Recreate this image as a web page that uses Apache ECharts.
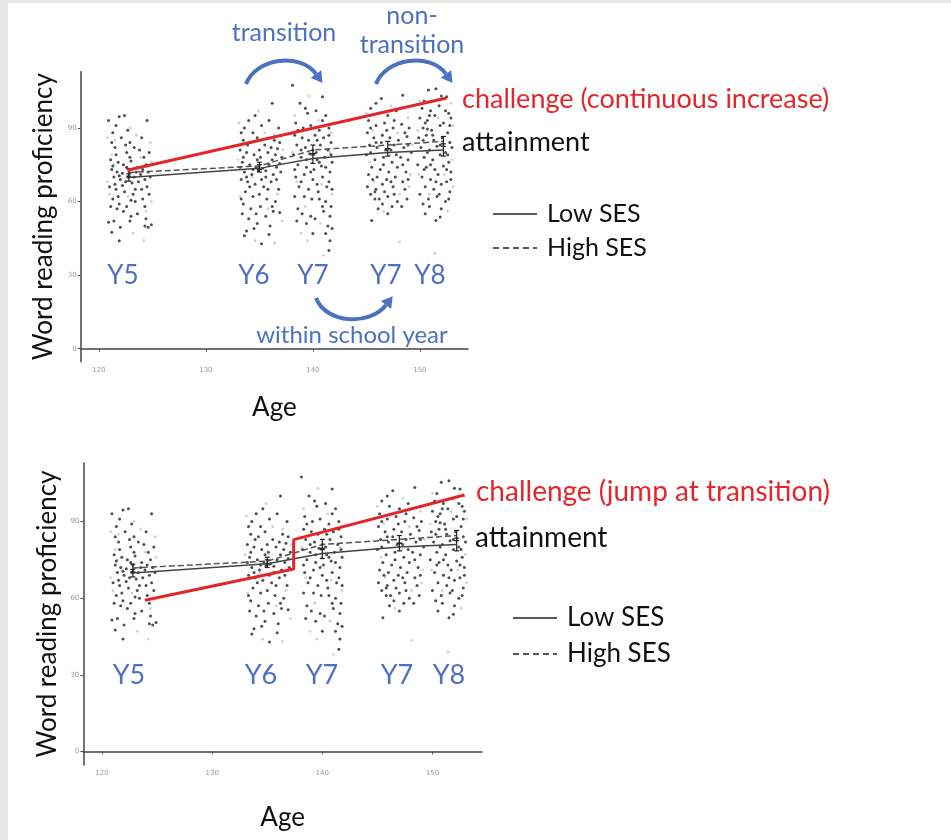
<!DOCTYPE html>
<html><head><meta charset="utf-8">
<script src="https://cdn.jsdelivr.net/npm/echarts@6/dist/echarts.min.js"></script>
<style>html,body{margin:0;padding:0;background:#fff}#c{width:951px;height:840px}</style>
</head><body><div id="c"></div>
<script>
// ---------- data ----------
const ageTicks = [120, 130, 140, 150];
const profTicks = [0, 30, 60, 90];
const yearLabels = ['Y5', 'Y6', 'Y7', 'Y7', 'Y8'];

// individual children (age, word reading proficiency), dark = higher opacity points
const darkPoints = [
 [120.9,93],[121.6,91],[121.9,94.5],[122.4,95],[122.7,89],[124.5,93],[121.3,88],[122.1,86],[122.9,84],[123.3,82],[121.5,82],[122.6,80],[123.8,81],[124.2,78],[121.1,77],[121.8,76],[122.3,75],[123.0,76.5],[123.6,74],[124.4,75],[121.2,73],[121.7,72],[122.2,71.5],[122.8,73],[123.3,70],[123.9,71],[124.6,72],[121.4,70],[122.0,69],[122.5,68],[123.1,67.5],[123.7,68],[124.3,69],[121.0,66],[121.6,65],[122.4,64],[123.2,63],[124.0,65],[124.7,63],[121.3,61],[121.9,59],[122.6,58],[123.4,60],[124.1,61],[121.1,58],[121.7,57],[122.3,56],[123.6,55],[124.4,53],[120.9,51.5],[121.4,52],[122.0,49.5],[123.0,54],[124.3,50],[124.6,49.5],[124.9,50.5],[121.9,44],
 [121.2,84],[122.5,83],[124.0,86],[121.6,79],[122.9,78],[124.7,80],[121.3,74.5],[122.6,74],[124.1,73],[121.9,70.5],[122.7,70],[123.5,72],[124.8,70],[121.5,67],[122.2,66.5],[123.4,65],[124.5,66],[121.8,62],[123.0,60.5],[124.3,58],[122.9,52],[121.2,47.5],
 [133.3,88],[134.0,93],[134.6,95],[135.2,91],[136.2,100],[136.8,90],[133.5,85],[134.2,84],[134.8,86],[135.5,83],[136.1,82],[136.9,84],[133.2,81],[133.8,80],[134.5,79],[135.1,78],[135.8,80],[136.5,79],[137.1,78],[133.4,76],[134.1,75],[134.7,74],[135.3,73.5],[135.9,75],[136.6,74],[133.6,72],[134.3,71],[134.9,72.5],[135.6,70],[136.3,71],[137.0,72],[133.3,69],[133.9,68],[134.6,67],[135.4,66],[136.1,68],[136.8,65],[133.7,64],[134.4,62],[135.0,63],[135.7,61],[136.5,60],[133.5,59],[134.2,57],[135.1,58],[136.3,56],[136.9,55.5],[133.4,55],[134.0,53],[134.8,51],[135.6,54],[133.8,48],[134.5,49],[133.6,46],[135.2,42.8],[136.0,50],
 [133.6,90],[135.9,93],[134.4,88],[136.4,85],[133.9,83],[135.0,81],[136.7,81.5],[133.5,78],[134.8,77],[136.2,77],[133.2,74],[134.4,73],[135.6,72.5],[136.9,75.5],[133.8,70],[135.2,69],[136.6,69],[134.1,66],[135.8,65],[133.3,61],[136.2,58],[134.7,55],[135.9,46.5],
 [138.1,107.4],[138.8,100],[140.9,102.7],[139.5,96],[140.3,97],[141.2,95],[138.4,92],[139.1,90],[139.8,91],[140.6,89],[141.5,90],[138.3,87],[139.0,86],[139.6,85],[140.2,87],[141.0,86],[141.7,84],[138.5,83],[139.3,82],[140.0,81],[140.7,83],[141.4,81],[138.2,79],[138.9,78],[139.7,79.5],[140.4,77],[141.1,78],[141.8,76],[138.6,75],[139.4,74],[140.1,73],[140.8,74.5],[141.6,72],[138.4,70],[139.2,71],[140.0,69],[140.9,70],[141.5,68],[138.7,66],[139.6,65],[140.5,64],[141.3,66],[138.3,62],[139.9,61],[140.6,61],[141.2,60],[141.7,58],[139.0,55],[139.8,54],[141.0,56],[141.6,54],[138.5,52],[139.4,51],[140.2,53],[141.4,50],[141.8,49],[141.2,47],[141.5,40],
 [139.3,98],[140.9,93],[138.6,89],[140.4,85],[141.5,87],[138.9,81],[140.3,80],[141.7,79],[139.4,77],[140.6,76],[138.3,73],[139.8,72],[141.2,74],[138.9,68],[140.4,67],[141.8,65],[139.2,62],[140.9,58],[138.6,57],[140.0,47],[141.6,44],
 [146.4,102],[148.4,103.3],[145.4,98],[146.1,96],[147.0,95],[147.8,97],[145.2,93],[145.9,91],[146.7,92],[147.5,90],[148.3,91.5],[149.0,90],[145.1,88],[145.7,86],[146.5,87],[147.2,86],[148.0,85],[148.8,86.5],[145.3,83],[146.0,82],[146.8,81],[147.6,83],[148.5,82],[149.2,80],[145.0,79],[145.8,77],[146.6,78],[147.4,76],[148.2,78],[148.9,77],[145.5,74],[146.3,73],[147.1,72],[147.9,74],[148.7,72],[145.2,71],[146.0,70],[146.9,69],[147.7,70],[148.4,68],[145.1,66],[145.9,65],[146.7,64],[147.5,66],[148.6,65],[145.4,63],[146.2,61],[147.0,62],[147.9,60],[148.8,61],[146.5,59],[147.4,58],[145.5,52.3],[145.8,64],[146.4,84],
 [145.9,100],[147.6,93],[145.4,90],[146.9,89],[148.6,88],[145.9,84],[147.3,81],[148.9,83],[145.4,80],[146.6,75],[147.8,79],[148.4,75],[145.6,69],[146.5,67],[147.3,68],[148.9,69],[145.8,61],[147.6,63],[148.3,58],[146.1,57],[147.0,55],
 [150.8,105.4],[151.5,106],[152.5,102.7],[150.2,98],[151.0,97],[151.8,99],[152.7,96],[150.0,94],[150.7,93],[151.4,95],[152.2,92],[152.9,94],[150.3,90],[151.1,89],[151.9,91],[152.6,88],[149.9,86],[150.6,87],[151.3,85],[152.1,86],[152.8,84],[150.1,82],[150.9,81],[151.6,82.5],[152.4,80],[153.0,82],[150.4,78],[151.2,77],[151.9,79],[152.7,76],[149.8,75],[150.6,74],[151.4,73],[152.2,74.5],[152.9,72],[150.2,70],[151.0,69],[151.7,71],[152.5,68],[150.5,66],[151.3,65],[152.0,67],[152.8,64],[150.0,63],[150.8,61],[151.6,62],[152.4,60],[150.3,59],[152.0,57],[151.9,53.7],[151.5,52.3],[150.7,89.5],
 [150.4,101],[152.0,103],[150.9,95],[152.4,97],[150.5,92],[152.8,91],[151.2,87],[150.3,85],[151.9,83],[150.7,80],[152.6,79],[151.0,75],[152.5,73],[150.4,73],[151.5,68],[152.9,69],[151.8,63],[150.9,58],[152.7,61],[150.5,55]
];
const lightPoints = [
 [120.8,86],[121.5,85],[123.5,87],[124.8,84],[121.2,79],[123.9,78],[124.9,76],[120.8,68],[122.7,62],[124.9,60],[121.0,63],[124.4,56],[124.2,44],[123.2,47],[122.9,90],[121.4,75],
 [133.1,92],[134.9,97],[136.4,87],[133.0,77],[137.2,81],[134.3,70],[136.7,63],[133.2,62],[135.8,57],[137.1,52],[134.6,44],[136.4,43],[135.5,88],
 [138.3,95],[139.6,103],[140.5,93],[141.7,88],[138.1,80],[139.9,76],[141.6,80],[138.5,68],[140.8,67],[139.3,58],[140.7,51],[138.9,47],[141.0,38],[139.5,44],[141.8,63],
 [145.0,96],[147.3,99],[148.9,94],[145.6,89],[147.9,88],[149.3,83],[145.3,76],[147.2,79],[149.1,71],[145.7,68],[148.1,63],[146.6,56],[148.1,43.5],[149.0,66],
 [150.0,101],[152.9,100],[151.7,94],[149.8,89],[153.1,91],[150.5,84],[153.0,77],[149.9,71],[152.3,71],[150.9,63],[153.1,66],[151.4,38.8],[152.6,56]
];

// group means at each wave
const waveAges = [122.8, 135, 140, 147, 152.2];
const lowSES  = [69.8, 73.5, 77.5, 80, 81];
const highSES = [71.8, 74.5, 81, 83, 84.5];
const lowSESlo  = [68.3, 72, 75.5, 78.5, 78.5];
const lowSEShi  = [71.3, 75, 79.5, 81.5, 83.5];
const highSESlo = [70.3, 73, 79, 81.5, 82.5];
const highSEShi = [73.3, 76, 83, 84.5, 86.5];

// hypothesised challenge trajectories
const challengeContinuous = [[122.65, 72.7], [152.5, 102.2]];
const challengeJump = [[123.9, 59.2], [137.4, 71.4], [137.4, 82.9], [152.9, 100.4]];

// ---------- chart ----------
const zip = (xs, ys) => xs.map((x, i) => [x, ys[i]]);
const zip3 = (xs, a, b) => xs.map((x, i) => [x, a[i], b[i]]);
const FONT = 'Lato';
const BLUE = '#4a72c0', RED = '#e3262c';

function errItem(params, api) {
  const x = api.value(0), lo = api.value(1), hi = api.value(2);
  const p1 = api.coord([x, lo]), p2 = api.coord([x, hi]);
  const w = 2.5, st = { stroke: '#222', lineWidth: 1.2 };
  return { type: 'group', children: [
    { type: 'line', shape: { x1: p1[0], y1: p1[1], x2: p2[0], y2: p2[1] }, style: st },
    { type: 'line', shape: { x1: p1[0]-w, y1: p1[1], x2: p1[0]+w, y2: p1[1] }, style: st },
    { type: 'line', shape: { x1: p2[0]-w, y1: p2[1], x2: p2[0]+w, y2: p2[1] }, style: st }
  ]};
}

function xAx(i, gap) {
  return {
    type: 'value', gridIndex: i, min: 118.3, max: 154.5,
    name: 'Age', nameLocation: 'middle', nameGap: gap,
    nameTextStyle: { fontFamily: FONT, fontSize: 26, color: '#111' },
    splitLine: { show: false },
    axisLine: { lineStyle: { color: '#444', width: 1.5 } },
    axisTick: { customValues: ageTicks, length: 3, lineStyle: { color: '#555' } },
    axisLabel: { customValues: ageTicks, fontSize: 7, color: '#999', margin: 5, fontFamily: 'DejaVu Sans' }
  };
}
function yAx(i, gap) {
  return {
    type: 'value', gridIndex: i, min: -5.3, max: 112.9,
    name: 'Word reading proficiency', nameLocation: 'middle', nameGap: gap, nameRotate: 90,
    nameTextStyle: { fontFamily: FONT, fontSize: 26, color: '#111' },
    splitLine: { show: false },
    axisLine: { show: true, lineStyle: { color: '#444', width: 1.5 } },
    axisTick: { show: true, customValues: profTicks, length: 3, lineStyle: { color: '#555' } },
    axisLabel: { customValues: profTicks, fontSize: 7, color: '#999', margin: 4, fontFamily: 'DejaVu Sans' }
  };
}
function panelSeries(i, challenge) {
  return [
    { type: 'scatter', xAxisIndex: i, yAxisIndex: i, data: lightPoints, symbolSize: 2.8, itemStyle: { color: '#c4c4c4' }, silent: true, z: 1 },
    { type: 'scatter', xAxisIndex: i, yAxisIndex: i, data: darkPoints, symbolSize: 3, itemStyle: { color: '#222' }, silent: true, z: 2 },
    { type: 'line', name: 'Low SES', xAxisIndex: i, yAxisIndex: i, data: zip(waveAges, lowSES), symbol: 'none', lineStyle: { color: '#444', width: 1.5 }, z: 3 },
    { type: 'line', name: 'High SES', xAxisIndex: i, yAxisIndex: i, data: zip(waveAges, highSES), symbol: 'none', lineStyle: { color: '#555', width: 1.5, type: [6, 3] }, z: 3 },
    { type: 'custom', xAxisIndex: i, yAxisIndex: i, data: zip3(waveAges, lowSESlo, lowSEShi), renderItem: errItem, encode: { x: 0, y: [1, 2] }, z: 4 },
    { type: 'custom', xAxisIndex: i, yAxisIndex: i, data: zip3(waveAges, highSESlo, highSEShi), renderItem: errItem, encode: { x: 0, y: [1, 2] }, z: 4 },
    { type: 'line', xAxisIndex: i, yAxisIndex: i, data: challenge, symbol: 'none', lineStyle: { color: RED, width: 3 }, z: 5 }
  ];
}

function txt(x, y, s, size, color, align) {
  return { type: 'text', x: x, y: y, z: 100, style: { text: s, fontFamily: FONT, fontSize: size, fill: color, align: align || 'center', verticalAlign: 'middle' } };
}
function arrow(sx, sy, c1x, c1y, c2x, c2y, ex, ey) {
  let dx = ex - c2x, dy = ey - c2y; const L = Math.hypot(dx, dy); dx /= L; dy /= L;
  const px = -dy, py = dx;
  return [
    { type: 'bezierCurve', z: 100, shape: { x1: sx, y1: sy, x2: ex, y2: ey, cpx1: c1x, cpy1: c1y, cpx2: c2x, cpy2: c2y }, style: { stroke: BLUE, lineWidth: 4, fill: null } },
    { type: 'polygon', z: 100, shape: { points: [[ex + dx * 11, ey + dy * 11], [ex + px * 6.5, ey + py * 6.5], [ex - px * 6.5, ey - py * 6.5]] }, style: { fill: BLUE } }
  ];
}
function legendItems(lx, ty, gap, size) {
  return [
    { type: 'line', z: 100, shape: { x1: lx, y1: ty, x2: lx + 44, y2: ty }, style: { stroke: '#222', lineWidth: 1.5 } },
    { type: 'line', z: 100, shape: { x1: lx, y1: ty + gap, x2: lx + 44, y2: ty + gap }, style: { stroke: '#222', lineWidth: 1.5, lineDash: [6, 4] } },
    txt(lx + 54, ty, 'Low SES', size, '#111', 'left'),
    txt(lx + 54, ty + gap, 'High SES', size, '#111', 'left')
  ];
}

const topYearX = [123, 254, 313, 386, 430];
const botYearX = [129, 261, 322, 397, 449];

const graphic = [
  { type: 'rect', z: 0, shape: { x: 0, y: 0, width: 951, height: 3 }, style: { fill: '#e6e6e6' } },
  { type: 'rect', z: 0, shape: { x: 0, y: 0, width: 8, height: 840 }, style: { fill: '#e6e6e6' } },
  txt(284, 33, 'transition', 25, BLUE),
  txt(412, 16, 'non-', 25, BLUE),
  txt(412, 45, 'transition', 25, BLUE),
  txt(352, 335, 'within school year', 24, BLUE),
  ...arrow(246, 84, 256, 58, 300, 52, 316, 74),
  ...arrow(376, 84, 386, 58, 430, 52, 446, 74),
  ...arrow(316, 298, 326, 324, 370, 326, 386, 305),
  ...topYearX.map((x, i) => txt(x, 276, yearLabels[i], 26, BLUE)),
  ...botYearX.map((x, i) => txt(x, 675, yearLabels[i], 27, BLUE)),
  txt(462, 99, 'challenge (continuous increase)', 27, RED, 'left'),
  txt(462, 142, 'attainment', 27, '#111', 'left'),
  txt(476, 492, 'challenge (jump at transition)', 28, RED, 'left'),
  txt(475, 538, 'attainment', 28, '#111', 'left'),
  ...legendItems(493, 214, 34, 25),
  ...legendItems(513, 618, 36, 26)
];

const chart = echarts.init(document.getElementById('c'), null, { renderer: 'canvas' });
chart.setOption({
  animation: false,
  backgroundColor: '#fff',
  grid: [
    { left: 80.7, top: 71.7, width: 387.3, height: 290 },
    { left: 83.3, top: 463, width: 398.7, height: 302 }
  ],
  xAxis: [xAx(0, 33), xAx(1, 40)],
  yAxis: [yAx(0, 24), yAx(1, 23)],
  series: [...panelSeries(0, challengeContinuous), ...panelSeries(1, challengeJump)],
  graphic: graphic
});
</script></body></html>
